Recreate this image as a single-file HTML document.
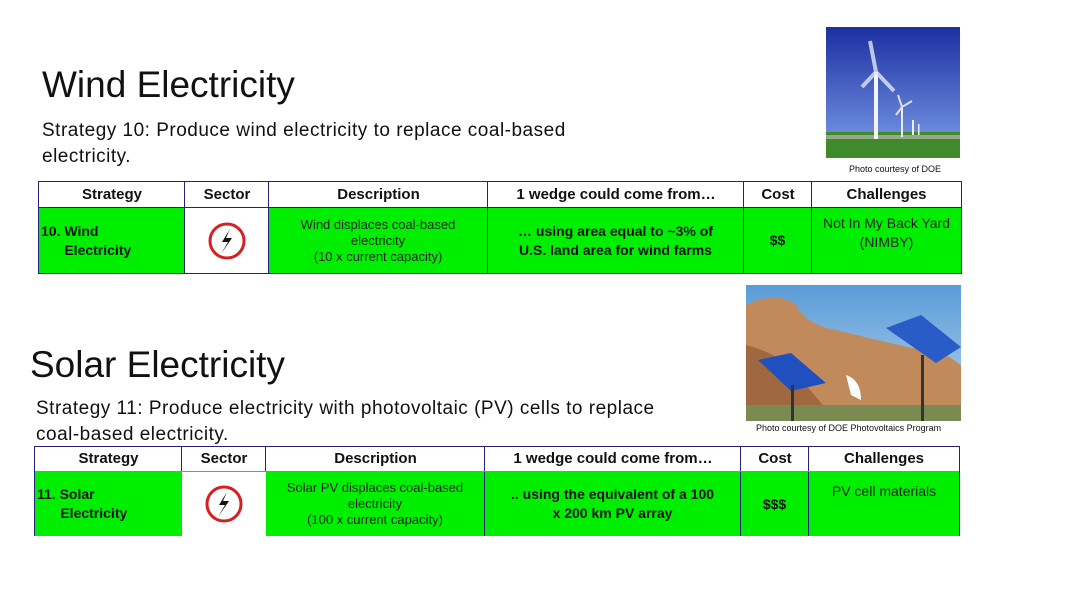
<!DOCTYPE html>
<html><head><meta charset="utf-8"><style>
body{margin:0;width:1067px;height:600px;background:#fff;position:relative;overflow:hidden;font-family:"Liberation Sans",sans-serif;}
.a{position:absolute;}
.title{font-size:37px;color:#111;}
.sub{font-size:19px;letter-spacing:0.5px;color:#111;line-height:26px;}
.cap{font-size:9px;color:#111;}
.cell{position:absolute;box-sizing:border-box;display:flex;align-items:center;justify-content:center;text-align:center;font-size:13px;line-height:16px;color:#222;}
.hd{background:#fff;border:1.5px solid #22227a;font-weight:bold;font-size:15px;color:#111;}
.bd{background:#00ee00;border-right:1.5px solid #22227a;}
.b{font-weight:bold;color:#111;font-size:14px;line-height:19px;}
</style></head><body>
<div class="a title" style="left:42px;top:64px;">Wind Electricity</div>
<div class="a sub" style="left:42px;top:118px;width:560px;">Strategy 10: Produce wind electricity to replace coal-based electricity.</div>
<svg class="a" style="left:826px;top:27px" width="134" height="131">
<defs><linearGradient id="sky" x1="0" y1="0" x2="0" y2="1"><stop offset="0" stop-color="#1c2fa0"/><stop offset="1" stop-color="#6f8fe0"/></linearGradient></defs>
<rect width="134" height="112" fill="url(#sky)"/><rect y="105" width="134" height="26" fill="#3f8a2a"/><rect y="108" width="134" height="4" fill="#9aa88a"/>
<rect x="48" y="45" width="4" height="67" fill="#f4f4f4"/><path d="M50 45 L44 14 M50 45 L36 60 M50 45 L68 64" stroke="#e0e6f8" stroke-width="4" opacity=".8"/>
<rect x="75" y="80" width="2" height="30" fill="#eee"/><path d="M76 80 L72 68 M76 80 L86 74 M76 80 L70 88" stroke="#ddd" stroke-width="2"/>
<rect x="86" y="93" width="2" height="15" fill="#eee"/><rect x="92" y="97" width="1.5" height="11" fill="#eee"/>
</svg>
<div class="a cap" style="left:849px;top:164px;">Photo courtesy of DOE</div>

<div>
<div class="cell hd" style="left:38px;top:181px;width:148px;height:27px">Strategy</div>
<div class="cell hd" style="left:184px;top:181px;width:86px;height:27px">Sector</div>
<div class="cell hd" style="left:268px;top:181px;width:221px;height:27px">Description</div>
<div class="cell hd" style="left:487px;top:181px;width:258px;height:27px">1 wedge could come from…</div>
<div class="cell hd" style="left:743px;top:181px;width:70px;height:27px">Cost</div>
<div class="cell hd" style="left:811px;top:181px;width:151px;height:27px">Challenges</div>
<div class="a" style="left:38px;top:207px;width:924px;height:67px;border:1.5px solid #22227a;box-sizing:border-box;background:#00ee00"></div>
<div class="cell bd b" style="left:39px;top:208px;width:146px;height:65px;justify-content:flex-start;text-align:left;padding-left:2px">10. Wind<br>&nbsp;&nbsp;&nbsp;&nbsp;&nbsp;&nbsp;Electricity</div>
<div class="cell" style="left:185px;top:208px;width:84px;height:65px;background:#fff;border-right:1.5px solid #22227a"><svg width="40" height="40"><circle cx="20" cy="20" r="17" fill="#fff" stroke="#d42020" stroke-width="3"/><path d="M23 8 L15 21 L21 21 L14 33 L25 17 L19 17 Z" fill="#111"/></svg></div>
<div class="cell bd" style="left:269px;top:208px;width:219px;height:65px">Wind displaces coal-based<br>electricity<br>(10 x current capacity)</div>
<div class="cell bd b" style="left:488px;top:208px;width:256px;height:65px">… using area equal to ~3% of<br>U.S. land area for wind farms</div>
<div class="cell bd b" style="left:744px;top:208px;width:68px;height:65px">$$</div>
<div class="cell" style="left:812px;top:208px;width:149px;height:65px;align-items:flex-start;padding-top:6px;font-size:14px;line-height:19px">Not In My Back Yard<br>(NIMBY)</div>
</div>

<div class="a title" style="left:30px;top:344px;">Solar Electricity</div>
<div class="a sub" style="left:36px;top:396px;width:660px;">Strategy 11: Produce electricity with photovoltaic (PV) cells to replace<br>coal-based electricity.</div>
<svg class="a" style="left:746px;top:285px" width="215" height="136">
<defs><linearGradient id="sky2" x1="0" y1="0" x2="0" y2="1"><stop offset="0" stop-color="#5a9bd8"/><stop offset="1" stop-color="#b8d6ee"/></linearGradient></defs>
<rect width="215" height="136" fill="url(#sky2)"/>
<path d="M0 20 Q30 5 50 20 Q60 40 90 45 Q150 60 200 70 L215 80 L215 136 L0 136 Z" fill="#c08a5a"/>
<path d="M0 60 Q40 70 60 100 L90 136 L0 136 Z" fill="#a06840"/>
<path d="M100 90 Q115 95 115 115 L105 110 Z" fill="#fff"/>
<rect x="0" y="120" width="215" height="16" fill="#7a8a50"/>
<path d="M12 75 L45 68 L80 98 L45 106 Z" fill="#2050c0"/><path d="M140 43 L175 30 L215 62 L190 78 Z" fill="#2a5cc8"/>
<rect x="45" y="100" width="3" height="36" fill="#333"/><rect x="175" y="70" width="3" height="66" fill="#333"/>
</svg>
<div class="a cap" style="left:756px;top:423px;">Photo courtesy of DOE Photovoltaics Program</div>

<div>
<div class="cell hd" style="left:34px;top:446px;width:149px;height:26px">Strategy</div>
<div class="cell hd" style="left:181px;top:446px;width:86px;height:26px">Sector</div>
<div class="cell hd" style="left:265px;top:446px;width:221px;height:26px">Description</div>
<div class="cell hd" style="left:484px;top:446px;width:258px;height:26px">1 wedge could come from…</div>
<div class="cell hd" style="left:740px;top:446px;width:70px;height:26px">Cost</div>
<div class="cell hd" style="left:808px;top:446px;width:152px;height:26px">Challenges</div>
<div class="a" style="left:34px;top:471px;width:926px;height:65px;background:#00ee00;border-left:1.5px solid #22227a;border-right:1.5px solid #22227a;box-sizing:border-box"></div>
<div class="cell bd b" style="left:35px;top:472px;width:147px;height:64px;justify-content:flex-start;text-align:left;padding-left:2px;border-right:none">11. Solar<br>&nbsp;&nbsp;&nbsp;&nbsp;&nbsp;&nbsp;Electricity</div>
<div class="cell" style="left:182px;top:472px;width:84px;height:64px;background:#fff"><svg width="40" height="40"><circle cx="20" cy="20" r="17" fill="#fff" stroke="#d42020" stroke-width="3"/><path d="M23 8 L15 21 L21 21 L14 33 L25 17 L19 17 Z" fill="#111"/></svg></div>
<div class="cell bd" style="left:266px;top:472px;width:219px;height:64px">Solar PV displaces coal-based<br>electricity<br>(100 x current capacity)</div>
<div class="cell bd b" style="left:485px;top:472px;width:256px;height:64px">.. using the equivalent of a 100<br>x 200 km PV array</div>
<div class="cell bd b" style="left:741px;top:472px;width:68px;height:64px">$$$</div>
<div class="cell" style="left:809px;top:472px;width:150px;height:64px;align-items:flex-start;padding-top:11px;font-size:14px">PV cell materials</div>
</div>
</body></html>
